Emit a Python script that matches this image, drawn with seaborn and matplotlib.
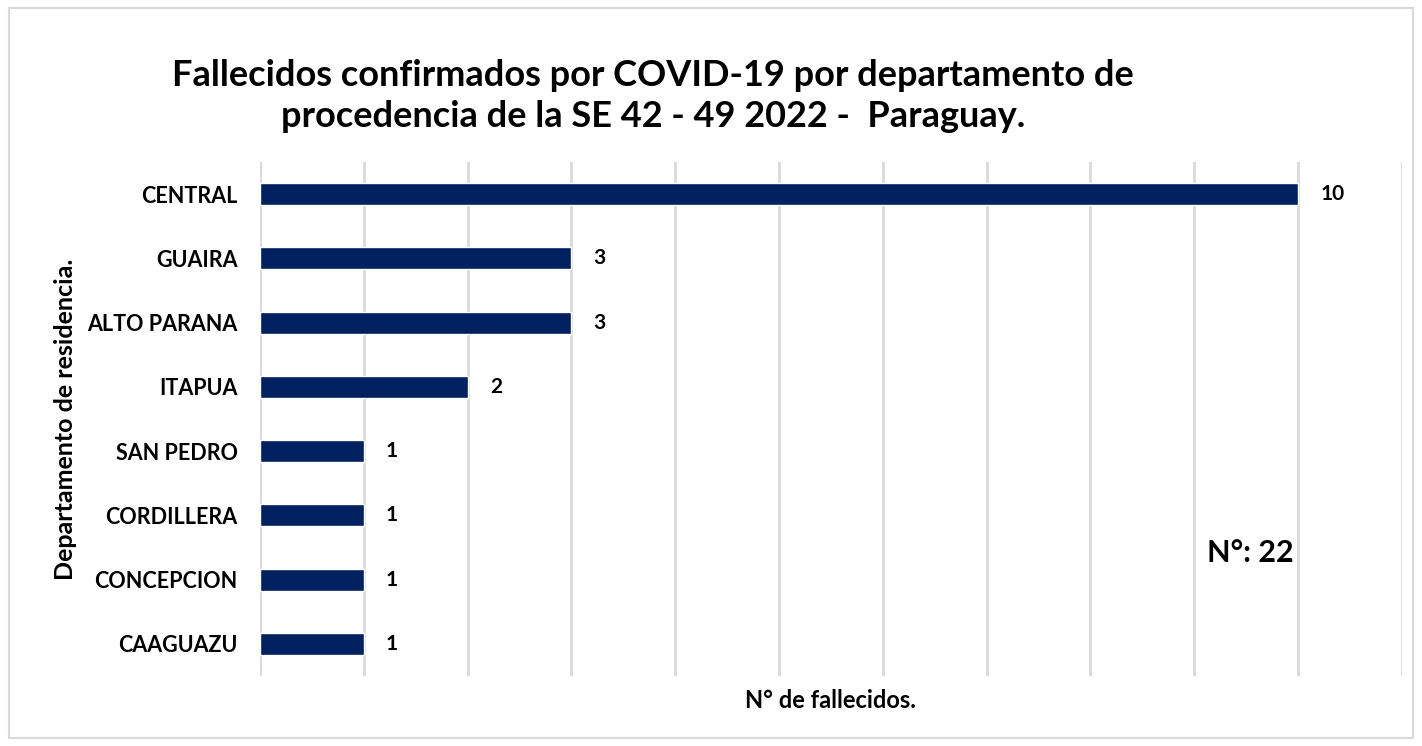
import matplotlib
matplotlib.use('Agg')
import matplotlib.pyplot as plt
import seaborn as sns
import pandas as pd
from matplotlib.patches import Rectangle

# ─── Data ────────────────────────────────────────────────────────────────────
departamentos = ['CENTRAL', 'GUAIRA', 'ALTO PARANA', 'ITAPUA',
                 'SAN PEDRO', 'CORDILLERA', 'CONCEPCION', 'CAAGUAZU']
fallecidos = [10, 3, 3, 2, 1, 1, 1, 1]
total_label = 'N°: 22'

df = pd.DataFrame({'departamento': departamentos, 'fallecidos': fallecidos})

# ─── Style ───────────────────────────────────────────────────────────────────
sns.set_theme(style='white')
plt.rcParams['font.family'] = ['Lato', 'DejaVu Sans']
plt.rcParams['text.color'] = 'black'
plt.rcParams['axes.labelcolor'] = 'black'
plt.rcParams['ytick.color'] = 'black'
BAR_COLOR = '#002060'
GRID_COLOR = '#d9d9d9'

fig = plt.figure(figsize=(14.22, 7.46), dpi=100)
ax = fig.add_axes([0.1828, 0.0938, 0.803, 0.689])

sns.barplot(data=df, x='fallecidos', y='departamento', color=BAR_COLOR,
            orient='h', width=0.34, saturation=1, ax=ax)

ax.set_xlim(0, 11)
ax.set_ylim(7.5, -0.5)
ax.set_xticks(range(0, 12))
ax.set_xticklabels([])
ax.tick_params(axis='both', length=0)
ax.grid(axis='x', color=GRID_COLOR, linewidth=2)
ax.set_axisbelow(True)
for s in ax.spines.values():
    s.set_visible(False)

for lbl in ax.get_yticklabels():
    lbl.set_fontweight('bold')
    lbl.set_fontsize(15.5)
ax.tick_params(axis='y', pad=16)

ax.bar_label(ax.containers[0], padding=16, fontsize=15, fontweight='bold')

ax.set_xlabel('N° de fallecidos.', fontsize=17, fontweight='bold')
ax.xaxis.set_label_coords(0.5, -0.025)
ax.set_ylabel('Departamento de residencia.', fontsize=18, fontweight='bold')
ax.yaxis.set_label_coords(-0.16, 0.5)

fig.text(0.459, 0.871, 'Fallecidos confirmados por COVID-19 por departamento de\n'
         'procedencia de la SE 42 - 49 2022 -  Paraguay.',
         ha='center', va='center', fontsize=26, fontweight='bold',
         linespacing=1.3)

ax.text(0.867, 0.239, total_label, transform=ax.transAxes, ha='center',
        va='center', fontsize=22, fontweight='bold')

fig.patches.append(Rectangle((0.006, 0.011), 0.988, 0.978, transform=fig.transFigure,
                             fill=False, edgecolor='#d9d9d9', linewidth=1.5))

fig.savefig('out.png', dpi=100)
